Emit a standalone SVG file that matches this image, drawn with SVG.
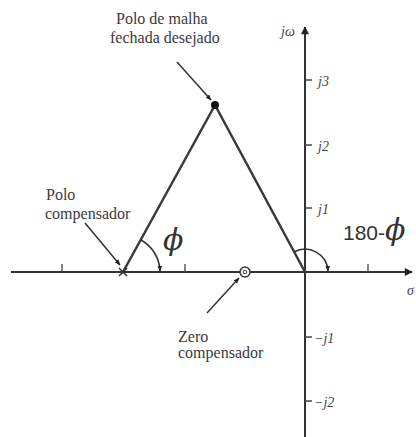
<svg xmlns="http://www.w3.org/2000/svg" width="416" height="437" viewBox="0 0 416 437">
<style>
.ax{stroke:#333;stroke-width:2;fill:none}
.tri{stroke:#3a3a3a;stroke-width:2.5;fill:none;stroke-linecap:round}
.tk{stroke:#444;stroke-width:1.3;fill:none}
.lead{stroke:#333;stroke-width:1.5;fill:none}
.arc{stroke:#333;stroke-width:1.6;fill:none}
.lbl{font-family:"Liberation Serif","DejaVu Serif",serif;font-size:16px;fill:#3a3a3a}
.im{font-family:"Liberation Serif","DejaVu Serif",serif;font-style:italic;font-size:14px;fill:#444}
.phi{font-family:"DejaVu Serif","Liberation Serif",serif;font-style:italic;fill:#333}
.num{font-family:"Liberation Sans",Arial,sans-serif;font-size:21px;fill:#333}
</style>
<defs>
<marker id="ah" viewBox="0 0 10 10" refX="9" refY="5" markerWidth="6" markerHeight="6" markerUnits="userSpaceOnUse" orient="auto">
<path d="M0,1 L10,5 L0,9 Z" fill="#222"/>
</marker>
<marker id="axh" viewBox="0 0 10 10" refX="9" refY="5" markerWidth="10" markerHeight="8" markerUnits="userSpaceOnUse" orient="auto">
<path d="M0,0 L10,5 L0,10 Z" fill="#222"/>
</marker>
</defs>
<rect width="416" height="437" fill="#fff"/>
<g id="axes">
<line class="ax" x1="11" y1="272" x2="412" y2="272" marker-end="url(#axh)"/>
<line class="ax" x1="305" y1="437" x2="305" y2="27" marker-end="url(#axh)"/>
<path class="tk" d="M62,272 V264 M185,272 V264 M368,272 V264"/>
<path class="tk" d="M305,80 H312 M305,145 H312 M305,208 H312 M305,337 H312 M305,401 H312"/>
<text class="im" x="281" y="36" font-size="12">jω</text>
<text class="im" x="318" y="86">j3</text>
<text class="im" x="318" y="151">j2</text>
<text class="im" x="318" y="214">j1</text>
<text class="im" x="314" y="343">−j1</text>
<text class="im" x="314" y="407">−j2</text>
<text class="im" x="407" y="295">σ</text>
</g>
<g id="connectors">
<path class="tri" d="M123,272 L215,105 L305,272"/>
<line class="lead" x1="177" y1="62" x2="211" y2="100" marker-end="url(#ah)"/>
<line class="lead" x1="85" y1="223" x2="120" y2="265" marker-end="url(#ah)"/>
<line class="lead" x1="207" y1="313" x2="239" y2="278" marker-end="url(#ah)"/>
<path class="arc" d="M141,240 A37,37 0 0 1 160,271" marker-end="url(#ah)"/>
<path class="arc" d="M294,252 A23,23 0 0 1 328,271" marker-end="url(#ah)"/>
</g>
<g id="pole-desired">
<circle cx="215" cy="105" r="4" fill="#111"/>
<text class="lbl" x="116" y="24">Polo de malha</text>
<text class="lbl" x="110" y="43">fechada desejado</text>
</g>
<g id="pole-comp">
<path d="M119,268 L127,276 M127,268 L119,276" stroke="#333" stroke-width="1.5"/>
<text class="lbl" x="46" y="200">Polo</text>
<text class="lbl" x="45" y="219">compensador</text>
</g>
<g id="zero-comp">
<circle cx="245" cy="272" r="5" fill="#fff" stroke="#333" stroke-width="1.5"/>
<circle cx="245" cy="272" r="1.8" fill="none" stroke="#333" stroke-width="1"/>
<text class="lbl" x="178" y="342">Zero</text>
<text class="lbl" x="178" y="358">compensador</text>
</g>
<g id="angles">
<text class="phi" x="163" y="250" font-size="30">ϕ</text>
<text class="num" x="343" y="240">180-</text>
<text class="phi" x="385" y="240" font-size="30">ϕ</text>
</g>
</svg>
